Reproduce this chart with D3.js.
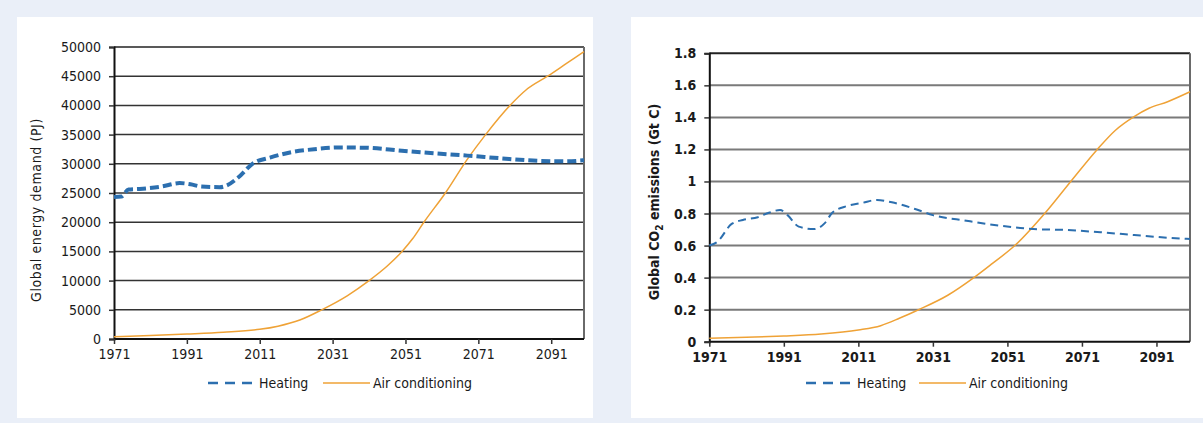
<!DOCTYPE html>
<html>
<head>
<meta charset="utf-8">
<script src="https://cdn.jsdelivr.net/npm/d3@7"></script>
<style>
  html, body { margin: 0; padding: 0; background: #EAEFF8; }
  svg { display: block; }
  text { font-family: "DejaVu Sans Condensed", "DejaVu Sans", sans-serif; fill: #1a1a1a; }
</style>
</head>
<body>
<svg id="chart" width="1203" height="423"></svg>
<script>
// ---- Energy demand (PJ) ----
const energyHeatYears = [1971, 1973, 1975, 1978, 1980, 1984, 1989, 1992, 1995, 2000, 2002, 2005, 2009, 2014, 2019, 2026, 2033, 2040, 2050, 2059, 2068, 2077, 2086, 2095, 2100];
const energyHeat      = [24300, 24400, 25600, 25700, 25800, 26100, 26700, 26500, 26100, 26000, 26300, 27600, 30000, 31100, 31900, 32500, 32800, 32750, 32240, 31800, 31400, 30950, 30550, 30430, 30600];
const energyACYears   = [1971, 1981, 1991, 2001, 2011, 2016, 2022, 2028, 2035, 2041, 2046, 2050, 2053, 2056, 2062, 2068, 2073, 2080, 2084, 2090, 2095, 2100];
const energyAC        = [400, 600, 850, 1150, 1650, 2200, 3250, 5000, 7400, 10000, 12500, 14950, 17200, 19950, 25050, 30800, 35000, 40200, 42600, 45000, 47100, 49200];
const energyTicks     = [0, 5000, 10000, 15000, 20000, 25000, 30000, 35000, 40000, 45000, 50000];

// ---- CO2 emissions (Gt C) ----
const co2HeatYears = [1971, 1973, 1977, 1980, 1984, 1987, 1990, 1992, 1995, 1999, 2002, 2004, 2008, 2012, 2016, 2020, 2026, 2031, 2040, 2049, 2058, 2067, 2076, 2085, 2094, 2100];
const co2Heat      = [0.60, 0.62, 0.735, 0.76, 0.777, 0.805, 0.822, 0.79, 0.718, 0.703, 0.74, 0.805, 0.847, 0.866, 0.885, 0.87, 0.83, 0.79, 0.755, 0.724, 0.703, 0.697, 0.683, 0.666, 0.649, 0.641];
const co2ACYears   = [1971, 1981, 1991, 2001, 2011, 2017, 2022, 2027, 2035, 2042, 2047, 2053, 2061, 2068, 2075, 2080, 2085, 2089, 2094, 2100];
const co2AC        = [0.021, 0.028, 0.036, 0.048, 0.073, 0.10, 0.146, 0.198, 0.29, 0.40, 0.489, 0.60, 0.80, 1.0, 1.197, 1.32, 1.405, 1.457, 1.498, 1.56];
const co2Ticks     = [0, 0.2, 0.4, 0.6, 0.8, 1, 1.2, 1.4, 1.6, 1.8];

const yearTicks = [1971, 1991, 2011, 2031, 2051, 2071, 2091];
const seriesNames = ["Heating", "Air conditioning"];

const BLUE = "#2C6FAF", ORANGE = "#EFA236";
const FS = 14;

const svg = d3.select("#chart");

// white panels
svg.append("rect").attr("x", 17).attr("y", 17).attr("width", 576).attr("height", 401).attr("fill", "#fff");
svg.append("rect").attr("x", 631).attr("y", 17).attr("width", 572).attr("height", 401).attr("fill", "#fff");

function panel(cfg) {
  const g = svg.append("g");
  const x = d3.scaleLinear().domain([1971, 2100]).range([cfg.left, cfg.right]);
  const y = d3.scaleLinear().domain([0, cfg.ymax]).range([cfg.bottom, cfg.top]);

  // horizontal gridlines
  g.selectAll(".grid").data(cfg.yTicks.filter(v => v > 0)).join("line")
    .attr("x1", cfg.left).attr("x2", cfg.right)
    .attr("y1", d => y(d)).attr("y2", d => y(d))
    .attr("stroke", d => d === cfg.ymax ? "#222" : cfg.gridColor)
    .attr("stroke-width", cfg.gridWidth);

  // right frame
  g.append("line").attr("x1", cfg.right).attr("x2", cfg.right)
    .attr("y1", cfg.top).attr("y2", cfg.bottom)
    .attr("stroke", "#6a6a6a").attr("stroke-width", 2);

  // y axis
  const yAxis = d3.axisLeft(y).tickValues(cfg.yTicks).tickSize(5).tickPadding(8)
    .tickFormat(cfg.yFormat);
  const ya = g.append("g").attr("transform", `translate(${cfg.left},0)`).call(yAxis);
  ya.select(".domain").attr("stroke", "#111").attr("stroke-width", 2);
  ya.selectAll(".tick line").attr("stroke", "#333").attr("stroke-width", 1.5);
  ya.selectAll(".tick text").attr("font-size", FS).attr("font-weight", cfg.weight)
    .attr("font-family", "DejaVu Sans Condensed").attr("fill", "#1a1a1a");

  // x axis
  const xAxis = d3.axisBottom(x).tickValues(yearTicks).tickSize(5).tickPadding(5)
    .tickFormat(d3.format("d"));
  const xa = g.append("g").attr("transform", `translate(0,${cfg.bottom})`).call(xAxis);
  xa.select(".domain").attr("stroke", "#111").attr("stroke-width", 2)
    .attr("d", `M${cfg.left},0H${cfg.right}`);
  xa.selectAll(".tick line").attr("stroke", "#333").attr("stroke-width", 1.5);
  xa.selectAll(".tick text").attr("font-size", FS).attr("font-weight", cfg.weight)
    .attr("font-family", "DejaVu Sans Condensed").attr("fill", "#1a1a1a");

  const line = d3.line().x(d => x(d[0])).y(d => y(d[1])).curve(d3.curveMonotoneX);

  // air conditioning
  g.append("path").datum(d3.zip(cfg.acYears, cfg.ac))
    .attr("d", line).attr("fill", "none").attr("stroke", ORANGE).attr("stroke-width", 1.5);
  // heating
  g.append("path").datum(d3.zip(cfg.heatYears, cfg.heat))
    .attr("d", line).attr("fill", "none").attr("stroke", BLUE)
    .attr("stroke-width", cfg.heatWidth).attr("stroke-dasharray", cfg.heatDash);

  // y axis title
  const t = g.append("text")
    .attr("transform", `translate(${cfg.titleX},${cfg.titleY}) rotate(-90)`)
    .attr("text-anchor", "middle").attr("font-size", FS).attr("font-weight", cfg.weight)
    .attr("letter-spacing", cfg.titleSpacing);
  cfg.title(t);

  // legend
  const ly = 383;
  g.append("line").attr("x1", cfg.legHeat).attr("x2", cfg.legHeat + 44)
    .attr("y1", ly).attr("y2", ly).attr("stroke", BLUE).attr("stroke-width", 2.5)
    .attr("stroke-dasharray", "10,7");
  g.append("text").attr("x", cfg.legHeat + 51).attr("y", ly + 5).attr("font-size", FS)
    .text(seriesNames[0]);
  g.append("line").attr("x1", cfg.legAC).attr("x2", cfg.legAC + 47)
    .attr("y1", ly).attr("y2", ly).attr("stroke", ORANGE).attr("stroke-width", 1.5);
  g.append("text").attr("x", cfg.legAC + 50).attr("y", ly + 5).attr("font-size", FS)
    .text(seriesNames[1]);
}

panel({
  left: 114, right: 584, top: 47, bottom: 339, ymax: 50000,
  yTicks: energyTicks, yFormat: d3.format("d"), weight: "normal",
  gridColor: "#333", gridWidth: 1.5,
  heatYears: energyHeatYears, heat: energyHeat, acYears: energyACYears, ac: energyAC,
  heatWidth: 4, heatDash: "9,4",
  titleX: 41, titleY: 210, titleSpacing: 0.6,
  title: t => t.text("Global energy demand (PJ)"),
  legHeat: 208, legAC: 323
});

panel({
  left: 709.3, right: 1190, top: 53.3, bottom: 341.7, ymax: 1.8,
  yTicks: co2Ticks, yFormat: d => d3.format("")(+d.toFixed(1)), weight: "bold",
  gridColor: "#7a7a7a", gridWidth: 2,
  heatYears: co2HeatYears, heat: co2Heat, acYears: co2ACYears, ac: co2AC,
  heatWidth: 2, heatDash: "8,5",
  titleX: 659, titleY: 202, titleSpacing: 0,
  title: t => {
    t.append("tspan").text("Global CO");
    t.append("tspan").attr("font-size", 10).attr("dy", 4).text("2");
    t.append("tspan").attr("dy", -4).text(" emissions (Gt C)");
  },
  legHeat: 806, legAC: 919
});
</script>
</body>
</html>
